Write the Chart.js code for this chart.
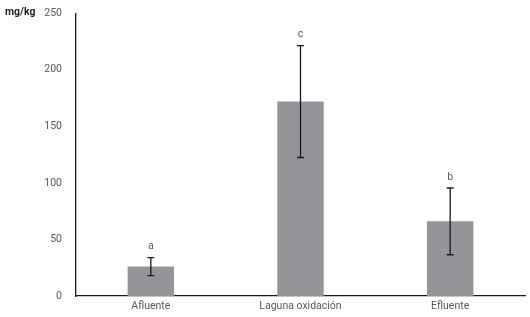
<!DOCTYPE html>
<html>
<head>
<meta charset="utf-8">
<script src="https://cdn.jsdelivr.net/npm/chart.js@4"></script>
<style>
  html, body { margin: 0; padding: 0; background: #fff; overflow: hidden; }
  #wrap { width: 530px; height: 324px; position: relative; margin-top: -7px; }
</style>
</head>
<body>
<div id="wrap"><canvas id="chart"></canvas></div>
<script>
// data
const categories = ['Afluente', 'Laguna oxidación', 'Efluente'];
const means = [26, 172, 66];
const errors = [8, 49.5, 29.5];
const letters = ['a', 'c', 'b'];
const yTicks = [0, 50, 100, 150, 200, 250];

const FONT = "'Roboto', sans-serif";
const TEXT = '#595959';

// error bars + significance letters
const errorBars = {
    id: 'errorBars',
    afterDatasetsDraw(chart) {
        const ctx = chart.ctx;
        const x = chart.scales.x, y = chart.scales.y;
        ctx.save();
        ctx.strokeStyle = '#1a1a1a';
        ctx.lineWidth = 1.3;
        means.forEach((m, i) => {
            const cx = x.getPixelForValue(i);
            const top = y.getPixelForValue(m + errors[i]);
            const bot = y.getPixelForValue(m - errors[i]);
            ctx.beginPath();
            ctx.moveTo(cx, top); ctx.lineTo(cx, bot);
            ctx.moveTo(cx - 3.5, top); ctx.lineTo(cx + 3.5, top);
            ctx.moveTo(cx - 3.5, bot); ctx.lineTo(cx + 3.5, bot);
            ctx.stroke();
            ctx.fillStyle = TEXT;
            ctx.font = '10.5px ' + FONT;
            ctx.textAlign = 'center';
            ctx.textBaseline = 'middle';
            ctx.fillText(letters[i], cx, top - 11);
        });
        // unit label top left
        ctx.fillStyle = '#262626';
        ctx.font = 'bold 10.5px ' + FONT;
        ctx.textAlign = 'left';
        ctx.textBaseline = 'middle';
        ctx.fillText('mg/kg', 5, 19);
        ctx.restore();
    }
};

new Chart(document.getElementById('chart'), {
    type: 'bar',
    data: {
        labels: categories,
        datasets: [{
            data: means,
            backgroundColor: '#939598',
            borderWidth: 0,
            barPercentage: 0.31,
            categoryPercentage: 1
        }]
    },
    options: {
        responsive: true,
        maintainAspectRatio: false,
        animation: false,
        layout: { padding: { left: 0, right: 5, top: 0, bottom: 0 } },
        plugins: { legend: { display: false }, tooltip: { enabled: false } },
        scales: {
            x: {
                grid: { display: false, drawTicks: false },
                border: { color: '#1a1a1a', width: 1.3 },
                ticks: { color: TEXT, font: { family: FONT, size: 10.5 }, padding: 4 },
                afterFit: s => { s.height = 21; }
            },
            y: {
                min: 0,
                max: 250,
                afterBuildTicks: s => { s.ticks = yTicks.map(v => ({ value: v })); },
                grid: { display: false, drawTicks: false },
                border: { color: '#1a1a1a', width: 1.3 },
                ticks: { color: TEXT, font: { family: FONT, size: 10.5 }, padding: 14 },
                afterFit: s => { s.width = 76; }
            }
        }
    },
    plugins: [errorBars]
});
</script>
</body>
</html>
